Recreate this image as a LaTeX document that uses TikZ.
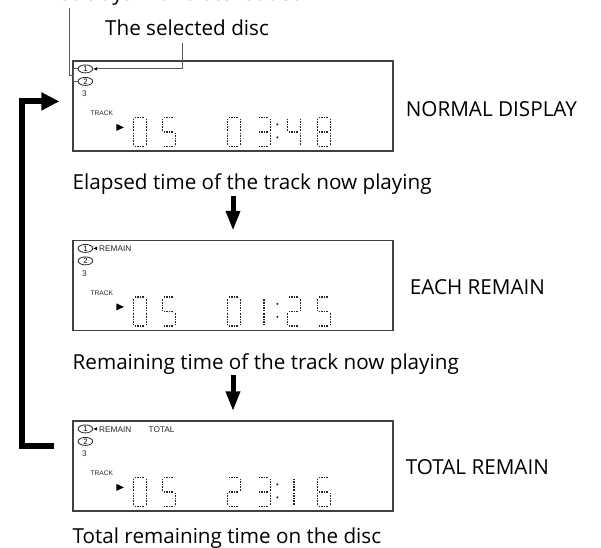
\documentclass[tikz,border=0pt]{standalone}
\usepackage{fontspec}
\setmainfont{Open Sans}
\newfontfamily\lcdfont{Liberation Sans}
\usetikzlibrary{shapes.geometric, arrows.meta, positioning, calc}
\tikzset{
  lbl/.style    ={font=\fontsize{15.5}{18}\selectfont, inner sep=0pt},
  panel/.style  ={rectangle, draw=black!75, line width=0.9pt, minimum width=240pt,
                  minimum height=67.5pt, inner sep=0pt},
  lcdtxt/.style ={font=\lcdfont\fontsize{6.2}{7}\selectfont, inner sep=0pt, text=black!85},
  discmk/.style ={ellipse, draw=black!85, line width=0.6pt, minimum width=11pt,
                  minimum height=6pt, inner sep=0pt, font=\lcdfont\fontsize{5.8}{6}\selectfont},
  lcdseg/.style ={draw=black!85, line width=1pt, dash pattern=on 0.55pt off 0.6pt},
  lead/.style   ={draw=black!65, line width=0.75pt},
  downar/.style ={-{Triangle[length=15pt, width=10pt]}, line width=3.75pt},
  loopar/.style ={-{Triangle[length=13.5pt, width=12.75pt]}, line width=4.5pt, line join=miter},
  % segments of one digit cell, 13 x 29
  lcd/a/.code={\draw[lcdseg] (2,0) -- (11,0);},
  lcd/b/.code={\draw[lcdseg] (13,2) -- (13,13);},
  lcd/c/.code={\draw[lcdseg] (13,16) -- (13,27);},
  lcd/d/.code={\draw[lcdseg] (2,29) -- (11,29);},
  lcd/e/.code={\draw[lcdseg] (0,16) -- (0,27);},
  lcd/f/.code={\draw[lcdseg] (0,2) -- (0,13);},
  lcd/g/.code={\draw[lcdseg] (2,14.5) -- (11,14.5);},
  lcd/m/.code={\draw[lcdseg] (6.5,2) -- (6.5,13) (6.5,16) -- (6.5,27);},
  lcd/0/.style={lcd/a, lcd/b, lcd/c, lcd/d, lcd/e, lcd/f},
  lcd/1/.style={lcd/m},
  lcd/2/.style={lcd/a, lcd/b, lcd/g, lcd/e, lcd/d},
  lcd/3/.style={lcd/a, lcd/b, lcd/g, lcd/c, lcd/d},
  lcd/4/.style={lcd/f, lcd/g, lcd/b, lcd/c},
  lcd/5/.style={lcd/a, lcd/f, lcd/g, lcd/c, lcd/d},
  lcd/6/.style={lcd/a, lcd/f, lcd/g, lcd/e, lcd/d, lcd/c},
  lcd/8/.style={lcd/a, lcd/b, lcd/c, lcd/d, lcd/e, lcd/f, lcd/g},
  pics/lcddigit/.style={code={\tikzset{lcd/#1}}},
}
% the fixed marks of one display window, then its six digits
\newcommand{\lcdpanel}[2]{%
  \node[discmk] (#1c1) at ($(#1.north west)+(13,8.5)$) {1};
  \node[discmk] (#1c2) at ($(#1.north west)+(13,21)$) {2};
  \node[lcdtxt] (#1n3) at ($(#1.north west)+(12,33.5)$) {3};
  \node[lcdtxt, font=\lcdfont\fontsize{5}{5}\selectfont] (#1trk) at ($(#1.north west)+(29.5,53)$) {TRACK};
  \fill ($(#1.north west)+(44,63.5)$) -- ++(7.5,3.5) -- ++(-7.5,3.5) -- cycle;
  \fill ($(#1c1.east)+(0.3,0)$) -- ++(3.8,-1.8) -- ++(0,3.6) -- cycle;
  \foreach \d/\dx in {#2}
    \pic at ($(#1.north west)+(\dx,57)$) {lcddigit=\d};
  \fill[black!85] ($(#1.north west)+(205,64)$) circle (1.2) ($(#1.north west)+(205,77)$) circle (1.2);
}

\begin{document}
\begin{tikzpicture}[x=0.75pt, y=-0.75pt]
\useasboundingbox (0,0) rectangle (601,548);
\clip (0,0) rectangle (601,548);
% display windows
\node[panel] (disp1) at (233,106) {};
\node[panel] (disp2) at (233,285.5) {};
\node[panel] (disp3) at (233,466) {};
\lcdpanel{disp1}{0/61,5/90,0/155,3/185,4/215,8/245}
\lcdpanel{disp2}{0/61,5/90,0/155,1/185,2/215,5/245}
\lcdpanel{disp3}{0/61,5/90,2/155,3/185,1/215,6/245}
\node[lcdtxt, anchor=west] (rem2) at ($(disp2.north west)+(26.5,9)$) {REMAIN};
\node[lcdtxt, anchor=west] (rem3) at ($(disp3.north west)+(26.5,9)$) {REMAIN};
\node[lcdtxt, anchor=west] (tot3) at ($(disp3.north west)+(76,9)$) {TOTAL};
% mode names
\node[lbl, right=9pt of disp1, yshift=-2pt] (mode1) {NORMAL DISPLAY};
\node[lbl, right=12pt of disp2, yshift=-1pt] (mode2) {EACH REMAIN};
\node[lbl, right=9pt of disp3, yshift=-1pt] (mode3) {TOTAL REMAIN};
% captions
\node[lbl, anchor=base west] (cap1) at ($(disp1.south west)+(0,38)$) {Elapsed time of the track now playing};
\node[lbl, anchor=base west] (cap2) at ($(disp2.south west)+(0,38)$) {Remaining time of the track now playing};
\node[lbl, anchor=base west] (cap3) at ($(disp3.south west)+(0,32)$) {Total remaining time on the disc};
\draw[downar] ($(cap1.south -| disp2.north)+(0,1)$) -- ($(disp2.north)+(0,-9)$);
\draw[downar] ($(cap2.south -| disp3.north)+(0,1)$) -- ($(disp3.north)+(0,-9)$);
% back to the normal display
\coordinate (loopin) at ($(disp3.north west)+(-18,26)$);
\coordinate (loopout) at ($(disp1.north west)+(-13,41)$);
\draw[loopar] (loopin) -- ++(-32,0) |- (loopout);
% leaders at the top
\node[lbl, anchor=base west] (tray) at (40,0.5) {Disc trays with discs loaded};
\node[lbl] (sel) at (187,28) {The selected disc};
\draw[lead] ($(sel.south)+(-5,7)$) |- ($(disp1c1.east)+(4.1,0)$);
\coordinate (trayend) at (69,8);
\coordinate (brk) at ($(disp1c1.west)!0.5!(disp1c2.west)+(-4,0)$);
\draw[lead] (trayend) |- (brk);
\draw[lead] (disp1c1.west) -- ++(-4,0) |- (disp1c2.west);
\end{tikzpicture}
\end{document}
